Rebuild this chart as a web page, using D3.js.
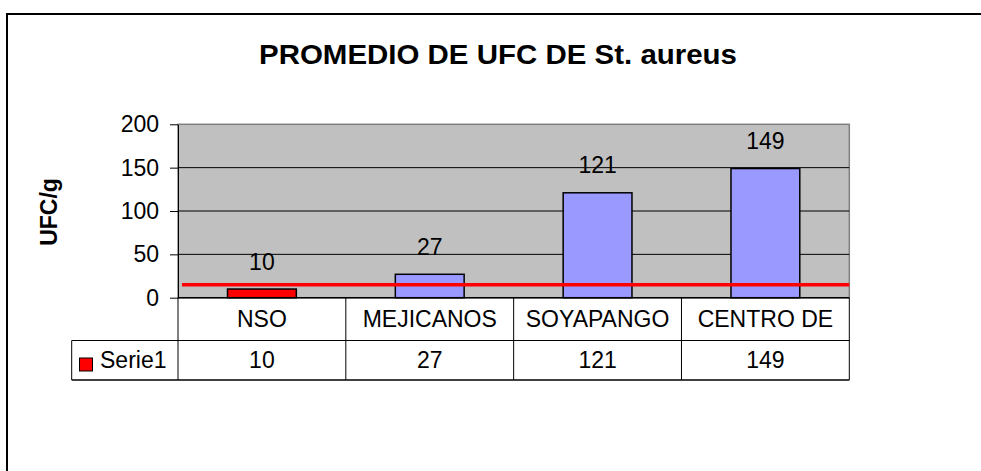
<!DOCTYPE html>
<html>
<head>
<meta charset="utf-8">
<script src="https://cdn.jsdelivr.net/npm/d3@7"></script>
<style>
  body { margin: 0; background: #fff; }
  text { font-family: "Liberation Sans", Arial, sans-serif; fill: #000; }
</style>
</head>
<body>
<svg id="chart" width="981" height="471"></svg>
<script>
// Values
const categories = ['NSO', 'MEJICANOS', 'SOYAPANGO', 'CENTRO DE'];
const values = [10, 27, 121, 149];
const barColors = ['#ff0000', '#9999ff', '#9999ff', '#9999ff'];
const seriesName = 'Serie1';
const yTicks = [0, 50, 100, 150, 200];
const limitValue = 15;

const plotLeft = 178;
const plotRight = 849.3;
const plotTop = 124.3;
const plotBottom = 297.7;
const catRowBottom = 340.5;
const dataRowBottom = 380;
const legendLeft = 71.7;
const fontSize = 23;

const svg = d3.select('#chart');

// outer chart frame (runs off the right and bottom of the picture)
svg.append('rect')
  .attr('x', 7).attr('y', 14)
  .attr('width', 1000).attr('height', 500)
  .attr('fill', 'none').attr('stroke', '#000').attr('stroke-width', 2);

svg.append('text')
  .attr('x', 498).attr('y', 64)
  .attr('text-anchor', 'middle')
  .attr('font-size', 28).attr('font-weight', 'bold')
  .attr('textLength', 478).attr('lengthAdjust', 'spacingAndGlyphs')
  .text('PROMEDIO DE UFC DE St. aureus');

const y = d3.scaleLinear().domain([0, 200]).range([plotBottom, plotTop]);
const cells = d3.scaleBand().domain(categories).range([plotLeft, plotRight]);
const x = d3.scaleBand().domain(categories).range([plotLeft, plotRight])
  .paddingInner(0.59).paddingOuter(0.295);

// plot background and grid
svg.append('rect')
  .attr('x', plotLeft).attr('y', plotTop)
  .attr('width', plotRight - plotLeft).attr('height', plotBottom - plotTop)
  .attr('fill', '#c0c0c0').attr('stroke', '#808080').attr('stroke-width', 1.5);

svg.append('g').selectAll('line')
  .data(yTicks.filter(d => d > 0 && d < 200))
  .join('line')
  .attr('x1', plotLeft).attr('x2', plotRight)
  .attr('y1', d => y(d)).attr('y2', d => y(d))
  .attr('stroke', '#000').attr('stroke-width', 1);

// bars
svg.append('g').selectAll('rect')
  .data(values)
  .join('rect')
  .attr('x', (d, i) => x(categories[i]))
  .attr('y', d => y(d))
  .attr('width', x.bandwidth())
  .attr('height', d => plotBottom - y(d))
  .attr('fill', (d, i) => barColors[i])
  .attr('stroke', '#000').attr('stroke-width', 1.5);

// value labels
svg.append('g').selectAll('text')
  .data(values)
  .join('text')
  .attr('x', (d, i) => x(categories[i]) + x.bandwidth() / 2)
  .attr('y', d => y(d) - 19.5)
  .attr('text-anchor', 'middle')
  .attr('font-size', fontSize)
  .text(d => d);

// reference line
svg.append('line')
  .attr('x1', plotLeft + 4).attr('x2', plotRight)
  .attr('y1', y(limitValue)).attr('y2', y(limitValue))
  .attr('stroke', '#ff0000').attr('stroke-width', 3.5);

// y axis
const yAxis = svg.append('g')
  .attr('transform', `translate(${plotLeft},0)`)
  .call(d3.axisLeft(y).tickValues(yTicks).tickSize(8).tickSizeOuter(0).tickPadding(11));
yAxis.selectAll('text')
  .attr('font-size', fontSize)
  .attr('font-family', '"Liberation Sans", Arial, sans-serif')
  .attr('fill', '#000');
yAxis.selectAll('line, path').attr('stroke', '#000');

svg.append('text')
  .attr('transform', 'translate(57,212) rotate(-90)')
  .attr('text-anchor', 'middle')
  .attr('font-size', 23).attr('font-weight', 'bold')
  .text('UFC/g');

// data table under the plot
const table = svg.append('g').attr('stroke', '#000').attr('stroke-width', 1);
table.append('line')
  .attr('x1', plotLeft).attr('x2', plotRight)
  .attr('y1', plotBottom).attr('y2', plotBottom).attr('stroke-width', 1.5);
table.append('line')
  .attr('x1', legendLeft).attr('x2', plotRight)
  .attr('y1', catRowBottom).attr('y2', catRowBottom);
table.append('line')
  .attr('x1', legendLeft).attr('x2', plotRight)
  .attr('y1', dataRowBottom).attr('y2', dataRowBottom)
  .attr('stroke', '#404040').attr('stroke-width', 2);
table.append('line')
  .attr('x1', legendLeft).attr('x2', legendLeft)
  .attr('y1', catRowBottom).attr('y2', dataRowBottom);
table.selectAll('.col')
  .data(categories.map(c => cells(c)).concat([plotRight]))
  .join('line')
  .attr('class', 'col')
  .attr('x1', d => d).attr('x2', d => d)
  .attr('y1', plotBottom).attr('y2', dataRowBottom);

svg.append('g').selectAll('text')
  .data(categories)
  .join('text')
  .attr('x', d => cells(d) + cells.bandwidth() / 2)
  .attr('y', (plotBottom + catRowBottom) / 2 + 8)
  .attr('text-anchor', 'middle')
  .attr('font-size', fontSize)
  .text(d => d);

svg.append('g').selectAll('text')
  .data(values)
  .join('text')
  .attr('x', (d, i) => cells(categories[i]) + cells.bandwidth() / 2)
  .attr('y', (catRowBottom + dataRowBottom) / 2 + 8)
  .attr('text-anchor', 'middle')
  .attr('font-size', fontSize)
  .text(d => d);

// legend key in the table
svg.append('rect')
  .attr('x', 79.5).attr('y', 358)
  .attr('width', 13).attr('height', 13)
  .attr('fill', barColors[0]).attr('stroke', '#000').attr('stroke-width', 1);
svg.append('text')
  .attr('x', 100).attr('y', (catRowBottom + dataRowBottom) / 2 + 8)
  .attr('font-size', fontSize)
  .text(seriesName);
</script>
</body>
</html>
